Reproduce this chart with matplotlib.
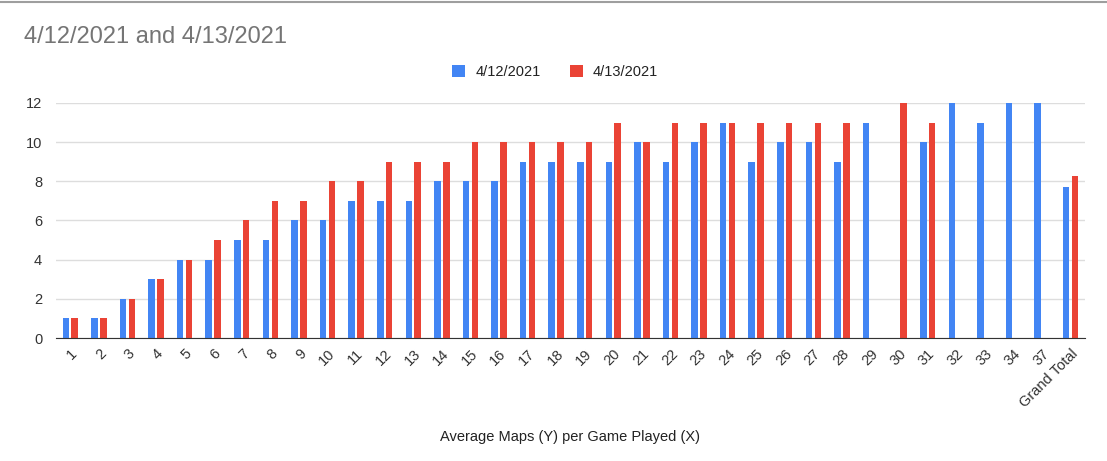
import numpy as np
import matplotlib
matplotlib.use('Agg')
import matplotlib.pyplot as plt

categories = [str(i) for i in range(1, 35)] + ['37', 'Grand Total']
day1 = [1, 1, 2, 3, 4, 4, 5, 5, 6, 6, 7, 7, 7, 8, 8, 8, 9, 9, 9, 9,
        10, 9, 10, 11, 9, 10, 10, 9, 11, np.nan, 10, 12, 11, 12, 12, 7.73]
day2 = [1, 1, 2, 3, 4, 5, 6, 7, 7, 8, 8, 9, 9, 9, 10, 10, 10, 10, 10, 11,
        10, 11, 11, 11, 11, 11, 11, 11, np.nan, 12, 11, np.nan, np.nan, np.nan, np.nan, 8.29]
labels = ['4/12/2021', '4/13/2021']
yticks = [0, 2, 4, 6, 8, 10, 12]

plt.rcParams['font.family'] = ['Liberation Sans', 'DejaVu Sans']

fig = plt.figure(figsize=(11.07, 4.61), dpi=100)
ax = fig.add_axes([0.0506, 0.2668, 0.9294, 0.5098])

x = np.arange(len(categories))
w = 0.23
ax.bar(x - w / 2 - 0.04, day1, width=w, color='#4285F4', label=labels[0], zorder=3)
ax.bar(x + w / 2 + 0.04, day2, width=w, color='#EA4335', label=labels[1], zorder=3)

ax.set_xlim(-0.5, len(categories) - 0.5)
ax.set_ylim(0, 12)
ax.set_yticks(yticks)
ax.set_xticks(x)
ax.set_xticklabels(categories, rotation=45, ha='right', rotation_mode='anchor',
                   fontsize=10.5, color='#333333')
ax.tick_params(axis='x', length=0, pad=6)
ax.tick_params(axis='y', length=0, labelsize=10.5, labelcolor='#333333', pad=10)
ax.grid(axis='y', color='#dddddd', linewidth=1, zorder=0)
for side in ['top', 'right', 'left']:
    ax.spines[side].set_visible(False)
ax.spines['bottom'].set_color('#333333')
ax.spines['bottom'].set_zorder(4)

fig.text(0.515, 0.052, 'Average Maps (Y) per Game Played (X)', fontsize=10.5,
         color='#222222', ha='center', va='center')

fig.text(0.022, 0.92, '4/12/2021 and 4/13/2021', fontsize=17, color='#757575', va='center')
ax.legend(loc='center', bbox_to_anchor=(0.485, 1.13), ncol=2, frameon=False,
          fontsize=10.5, handlelength=0.9, handleheight=0.9, columnspacing=2.0,
          handletextpad=0.7, labelcolor='#222222')

# top border line
fig.add_artist(plt.Line2D([0, 1], [0.996, 0.996], color='#9e9e9e', linewidth=1.5))

fig.savefig('out.png', dpi=100)
